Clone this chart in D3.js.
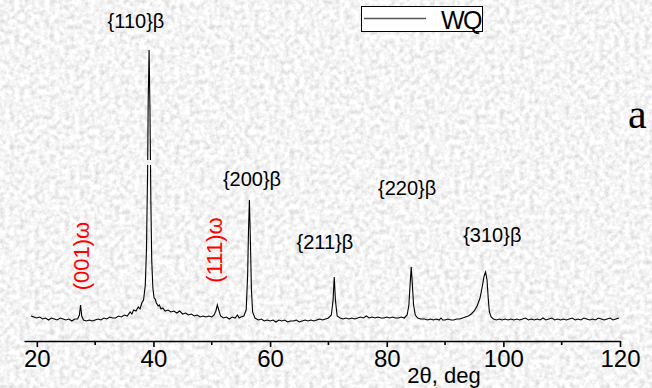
<!DOCTYPE html>
<html>
<head>
<meta charset="utf-8">
<script src="https://cdn.jsdelivr.net/npm/d3@7"></script>
<style>
  html, body { margin: 0; padding: 0; background: #ddd; }
  svg { display: block; font-family: "Liberation Sans", Arial, sans-serif; }
</style>
</head>
<body>
<svg id="chart" width="652" height="388"></svg>
<script>
// XRD scan, WQ sample: [2theta (deg), intensity (a.u.)]
const scan = [
  [19.0,14],[19.5,13],[20.0,12],[20.5,13],[21.0,11],[21.5,12],[22.0,10],[22.5,12],[23.0,11],[23.5,10],
  [24.0,12],[24.5,11],[25.0,10],[25.5,11],[26.0,9],[26.5,11],[27.0,11],[27.3,15],[27.5,25],[27.7,14],
  [28.0,10],[28.5,9],[29.0,10],[29.5,9],[30.0,10],[30.5,11],[31.0,10],[31.5,12],[32.0,11],[32.5,13],
  [33.0,12],[33.5,12],[34.0,14],[34.5,13],[35.0,15],[35.5,14],[36.0,18],[36.3,16],[36.6,20],[37.0,19],
  [37.4,23],[37.7,21],[38.0,27],[38.3,30],[38.6,45],[38.8,80],[39.0,160],[39.1,230],[39.25,280],[39.4,220],
  [39.55,130],[39.7,70],[39.9,42],[40.1,32],[40.3,31],[40.5,27],[40.8,24],[41.0,25],[41.3,21],[41.6,22],
  [42.0,19],[42.5,20],[43.0,18],[43.5,19],[44.0,17],[44.5,19],[45.0,16],[45.5,17],[46.0,15],[46.5,16],
  [47.0,14],[47.5,15],[48.0,13],[48.5,14],[49.0,13],[49.5,14],[50.0,13],[50.4,15],[50.7,19],[50.95,25],
  [51.2,20],[51.5,14],[52.0,12],[52.5,13],[53.0,11],[53.5,13],[54.0,12],[54.4,15],[54.7,12],[55.0,13],
  [55.5,14],[55.9,20],[56.15,55],[56.3,100],[56.45,130],[56.6,95],[56.8,40],[57.0,18],[57.4,12],[58.0,10],
  [58.5,11],[59.0,9],[59.5,10],[60.0,9],[60.5,10],[61.0,8],[61.5,10],[62.0,9],[62.5,10],[63.0,8],
  [63.5,9],[64.0,9],[64.5,10],[65.0,8],[65.5,9],[66.0,10],[66.5,9],[67.0,10],[67.5,9],[68.0,10],
  [68.5,11],[69.0,10],[69.5,11],[70.0,12],[70.5,15],[70.8,30],[71.0,53],[71.2,30],[71.5,14],[72.0,12],
  [72.5,11],[73.0,12],[73.5,11],[74.0,12],[74.5,11],[75.0,12],[75.5,13],[76.0,12],[76.5,14],[77.0,12],
  [77.5,13],[78.0,12],[78.5,13],[79.0,12],[79.5,12],[80.0,13],[80.5,12],[81.0,13],[81.5,12],[82.0,12],
  [82.5,13],[83.0,12],[83.5,15],[83.8,25],[84.0,45],[84.2,63],[84.4,45],[84.6,25],[84.9,15],[85.3,12],
  [85.8,11],[86.5,11],[87.0,10],[87.5,11],[88.0,10],[88.5,11],[89.0,10],[89.3,12],[89.6,10],[90.0,10],
  [90.5,11],[91.0,10],[91.5,10],[92.0,11],[92.5,11],[93.0,12],[93.5,13],[94.0,14],[94.5,16],[95.0,19],
  [95.5,24],[96.0,32],[96.4,44],[96.7,54],[96.95,58],[97.2,50],[97.4,32],[97.6,18],[97.9,13],[98.3,11],
  [98.8,10],[99.3,11],[99.8,10],[100.3,11],[100.8,10],[101.3,11],[101.8,10],[102.3,11],[102.8,10],[103.3,11],
  [103.8,12],[104.3,10],[104.8,11],[105.3,10],[105.8,11],[106.3,10],[106.8,12],[107.3,10],[107.8,11],[108.3,12],
  [108.8,10],[109.3,11],[109.8,10],[110.3,11],[110.8,10],[111.3,11],[111.8,12],[112.3,10],[112.8,11],[113.3,10],
  [113.8,12],[114.3,11],[114.8,10],[115.3,11],[115.8,10],[116.3,12],[116.8,11],[117.3,10],[117.8,11],[118.3,12],
  [118.8,10],[119.3,11],[119.8,12]
];

const betaLabels = ["{110}β", "{200}β", "{211}β", "{220}β", "{310}β"];
const betaAt = [37.0, 56.9, 69.4, 83.5, 98.1];
const omegaLabels = ["(001)ω", "(111)ω"];
const omegaAt = [27.6, 50.3];
const majorTicks = [20, 40, 60, 80, 100, 120];
const minorTicks = [30, 50, 70, 90, 110];
const seriesName = "WQ";

const svg = d3.select("#chart");
const W = 652, H = 388;

// paper-like grey background
const defs = svg.append("defs");
const f = defs.append("filter").attr("id", "paper")
  .attr("x", 0).attr("y", 0).attr("width", "100%").attr("height", "100%");
f.append("feTurbulence").attr("type", "fractalNoise")
  .attr("baseFrequency", 0.2).attr("numOctaves", 3).attr("seed", 4);
f.append("feColorMatrix").attr("type", "matrix")
  .attr("values", "0.6 0 0 0 0.61  0.6 0 0 0 0.61  0.6 0 0 0 0.61  0 0 0 0 1");
svg.append("rect").attr("width", W).attr("height", H).attr("filter", "url(#paper)");

const x = d3.scaleLinear().domain([17.8, 120]).range([24, 620]);
const y = d3.scaleLinear().domain([0, 300]).range([330, 30]);
const axisY = 341;

// axis
const gx = svg.append("g").attr("transform", `translate(0,${axisY})`)
  .call(d3.axisBottom(x).tickValues(majorTicks).tickSize(6).tickSizeOuter(0).tickPadding(3));
gx.select(".domain").attr("stroke", "#000").attr("stroke-width", 1.6);
gx.selectAll(".tick line").attr("stroke", "#000").attr("stroke-width", 1.6);
gx.selectAll(".tick text").attr("fill", "#000").style("font-size", "24px")
  .style("font-family", "Liberation Sans, Arial, sans-serif");
svg.append("g").attr("transform", `translate(0,${axisY})`)
  .selectAll("line").data(minorTicks).join("line")
  .attr("x1", d => x(d)).attr("x2", d => x(d)).attr("y1", 0).attr("y2", 4)
  .attr("stroke", "#000").attr("stroke-width", 1.6);

svg.append("text").attr("x", 444).attr("y", 383).attr("text-anchor", "middle")
  .style("font-size", "22px").text("2θ, deg");

// pattern
const line = d3.line().x(d => x(d[0])).y(d => y(d[1]));
svg.append("path").datum(scan).attr("d", line)
  .attr("fill", "none").attr("stroke", "#000").attr("stroke-width", 1.1);

// break mark on the {110} peak
svg.append("rect").attr("x", x(39.25) - 5).attr("y", 160).attr("width", 10).attr("height", 5)
  .attr("fill", "#f2f2f2");

// labels
const betaY = [28, 186, 249, 195, 242];
svg.append("g").selectAll("text").data(betaLabels).join("text")
  .attr("x", (d, i) => x(betaAt[i])).attr("y", (d, i) => betaY[i])
  .attr("text-anchor", "middle").style("font-size", "20px").text(d => d);

const omegaY = [256, 250];
svg.append("g").selectAll("text").data(omegaLabels).join("text")
  .attr("transform", (d, i) => `translate(${x(omegaAt[i]) + 8},${omegaY[i]}) rotate(-90)`)
  .attr("text-anchor", "middle").attr("fill", "#ff0000")
  .style("font-size", "22px").text(d => d);

svg.append("text").attr("x", 628).attr("y", 128)
  .style("font-family", "Liberation Serif, Times New Roman, serif").style("font-size", "42px").text("a");

// legend
const lg = svg.append("g");
lg.append("rect").attr("x", 361.5).attr("y", 6.5).attr("width", 121).attr("height", 25)
  .attr("fill", "#fff").attr("stroke", "#000").attr("stroke-width", 1);
lg.append("line").attr("x1", 364).attr("x2", 426).attr("y1", 18.5).attr("y2", 18.5)
  .attr("stroke", "#555").attr("stroke-width", 1.5);
lg.append("text").attr("x", 481).attr("y", 28.5).attr("text-anchor", "end")
  .style("font-size", "25px").style("letter-spacing", "-1.5px").text(seriesName);
</script>
</body>
</html>
